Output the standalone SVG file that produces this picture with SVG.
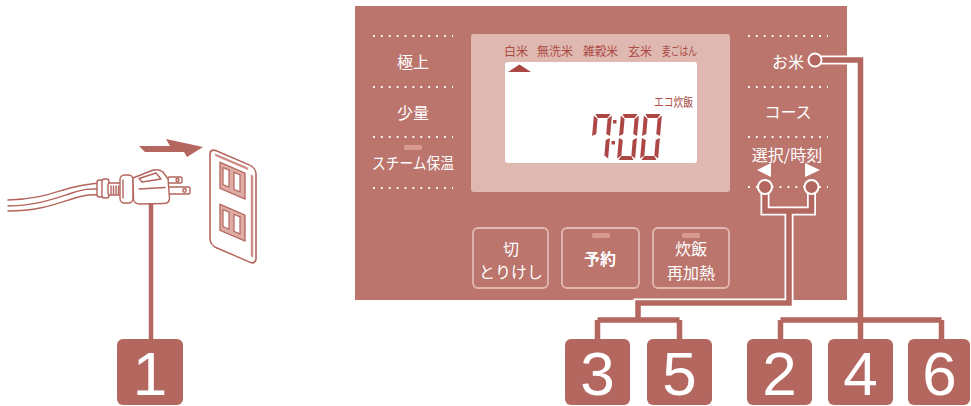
<svg xmlns="http://www.w3.org/2000/svg" width="971" height="406" viewBox="0 0 971 406">
  <style>
    .jp { font-family: "Noto Sans CJK JP", "Noto Sans", sans-serif; }
    .lbl { fill: #ffffff; font-size: 16px; text-anchor: middle; }
    .lcdt { fill: #ac4a45; font-size: 12px; }
    .dots { stroke: #ffffff; stroke-width: 1.8; stroke-dasharray: 1.8 6.1; fill: none; }
    .ink { stroke: #b4645c; stroke-width: 1.4; fill: #ffffff; stroke-linejoin: round; stroke-linecap: round; }
    .ink0 { stroke: #b4645c; stroke-width: 1.4; fill: none; stroke-linecap: round; stroke-linejoin: round; }
    .btn { fill: none; stroke: #e2b8b1; stroke-width: 1.8; }
    .ind { fill: #d89990; }
    .wire-w { stroke: #ffffff; stroke-width: 9; fill: none; stroke-linejoin: miter; }
    .wire { stroke: #b4675f; stroke-width: 5.5; fill: none; stroke-linejoin: miter; }
    .badge rect { fill: #b4675f; }
    .badge text { fill: #ffffff; font-family: "Liberation Sans", Arial, sans-serif; font-size: 62px; text-anchor: middle; }
    .seg { fill: #ab4846; }
  </style>
  <defs>
    <!-- seven-segment cells, 18 x 46 -->
    <g id="seg-a"><polygon class="seg" points="1.5,0 16.5,0 14,4 4,4"/></g>
    <g id="seg-b"><polygon class="seg" points="18,1.5 18,22 14,20 14,5"/></g>
    <g id="seg-c"><polygon class="seg" points="18,24 18,44.5 14,41.5 14,26"/></g>
    <g id="seg-d"><polygon class="seg" points="4,42 14,42 16.5,46 1.5,46"/></g>
    <g id="seg-e"><polygon class="seg" points="0,24 4,26 4,41.5 0,44.5"/></g>
    <g id="seg-f"><polygon class="seg" points="0,1.5 4,5 4,20 0,22"/></g>
    <g id="digit-7"><use href="#seg-a"/><use href="#seg-b"/><use href="#seg-c"/><use href="#seg-f"/></g>
    <g id="digit-0"><use href="#seg-a"/><use href="#seg-b"/><use href="#seg-c"/><use href="#seg-d"/><use href="#seg-e"/><use href="#seg-f"/></g>
  </defs>

  <!-- plug and cord -->
  <g id="plug">
    <path class="ink0" d="M8,200 C40,199 55,192 70,188 S90,184 99,183"/>
    <path class="ink0" d="M8,206 C40,205 56,198 72,193 S90,189 99,189"/>
    <path class="ink0" d="M8,211 C40,211 58,203 75,198 S92,195 99,195"/>
    <rect class="ink" x="97" y="180" width="6" height="17" rx="2.5"/>
    <rect class="ink" x="102" y="179" width="7" height="19" rx="2.5"/>
    <rect class="ink" x="108" y="183" width="14" height="12" rx="1.5"/>
    <path class="ink0" d="M111,186 V194 M113.5,186 V194 M116,186 V194 M118.5,186 V194"/>
    <rect class="ink" x="120" y="175" width="13" height="28" rx="4.5"/>
    <path class="ink0" d="M123,180 V198"/>
    <rect class="ink" x="168" y="177" width="14" height="6" rx="1.5"/>
    <circle class="ink" cx="177.5" cy="180" r="1.5"/>
    <rect class="ink" x="168" y="187" width="22" height="7" rx="1.5"/>
    <circle class="ink" cx="184.5" cy="190.5" r="1.7"/>
    <path class="ink" d="M133,178 L152,170.5 Q158,168.5 163,172 L168,179 L169.5,198 Q169.5,203.5 164,203.5 L140,204 Q134,204 133.5,199 Z"/>
    <path class="ink0" d="M139,178.5 L156,173 L161,179 L142,182 Z"/>
    <path class="ink0" d="M139,189 L165,187.5"/>
  </g>

  <!-- push arrow -->
  <polygon id="push-arrow" fill="#b4675f" points="139,146 170,146 166,139 203,147 187,157 184,152 145,152"/>

  <!-- wall outlet -->
  <g id="outlet" transform="matrix(1,0.43,0,1,210,150)">
    <rect x="0" y="-2" width="46" height="97" rx="6" fill="#ffffff" stroke="#b4645c" stroke-width="1.6"/>
    <path d="M6,2.5 H37 M42,8 V88" stroke="#dca8a1" stroke-width="2.6" fill="none" stroke-linecap="round"/>
    <path d="M6,2.5 H37 M42,8 V88" stroke="#b4645c" stroke-width="0.6" fill="none" stroke-linecap="round"/>
    <rect x="10" y="8" width="25" height="26" fill="#dcaca5" stroke="#b4645c" stroke-width="1.3"/>
    <rect x="13" y="12" width="6" height="17" fill="#ffffff" stroke="#b4645c" stroke-width="1.2"/>
    <rect x="24" y="12" width="6" height="17" fill="#ffffff" stroke="#b4645c" stroke-width="1.2"/>
    <rect x="10" y="50" width="25" height="26" fill="#dcaca5" stroke="#b4645c" stroke-width="1.3"/>
    <rect x="13" y="54" width="6" height="17" fill="#ffffff" stroke="#b4645c" stroke-width="1.2"/>
    <rect x="24" y="54" width="6" height="17" fill="#ffffff" stroke="#b4645c" stroke-width="1.2"/>
  </g>

  <!-- control panel -->
  <g id="panel">
    <rect x="355" y="6" width="492" height="294" fill="#bb756c"/>
    <!-- left menu -->
    <line class="dots" x1="373" y1="36" x2="453" y2="36"/>
    <line class="dots" x1="373" y1="87" x2="453" y2="87"/>
    <line class="dots" x1="373" y1="137" x2="453" y2="137"/>
    <line class="dots" x1="373" y1="188" x2="453" y2="188"/>
    <text class="jp lbl" x="413" y="68">極上</text>
    <text class="jp lbl" x="413" y="119">少量</text>
    <rect class="ind" x="404" y="145" width="18" height="5" rx="1.5"/>
    <text class="jp lbl" x="413" y="169" font-size="15" textLength="82" lengthAdjust="spacingAndGlyphs">スチーム保温</text>
    <!-- right menu -->
    <line class="dots" x1="748" y1="36" x2="828" y2="36"/>
    <line class="dots" x1="748" y1="87" x2="828" y2="87"/>
    <line class="dots" x1="748" y1="137" x2="828" y2="137"/>
    <line class="dots" x1="748" y1="187" x2="828" y2="187"/>
    <text class="jp lbl" x="788" y="68">お米</text>
    <text class="jp lbl" x="788" y="118">コース</text>
    <text class="jp lbl" x="787" y="161" font-size="13.5">選択/時刻</text>
    <polygon fill="#ffffff" points="757,170 771,163 771,177"/>
    <polygon fill="#ffffff" points="805,163 805,177 820,170"/>
  </g>

  <!-- display -->
  <g id="display">
    <rect x="471" y="34" width="259" height="158" rx="3" fill="#dfb9b1"/>
    <rect x="505" y="62" width="192" height="101" rx="3" fill="#ffffff"/>
    <text class="jp lcdt" x="504" y="56" textLength="24" lengthAdjust="spacingAndGlyphs">白米</text>
    <text class="jp lcdt" x="537" y="56" textLength="36" lengthAdjust="spacingAndGlyphs">無洗米</text>
    <text class="jp lcdt" x="583" y="56" textLength="35" lengthAdjust="spacingAndGlyphs">雑穀米</text>
    <text class="jp lcdt" x="628" y="56" textLength="24" lengthAdjust="spacingAndGlyphs">玄米</text>
    <text class="jp lcdt" x="662" y="56" textLength="35" lengthAdjust="spacingAndGlyphs">麦ごはん</text>
    <polygon fill="#ab4846" points="508,72 531,72 519.5,64.5"/>
    <text class="jp lcdt" x="654" y="107" font-size="13" textLength="39" lengthAdjust="spacingAndGlyphs">エコ炊飯</text>
    <use href="#digit-7" transform="translate(594,114) skewX(-5)"/>
    <rect class="seg" x="613" y="120" width="3.5" height="3.5"/>
    <rect class="seg" x="611.5" y="141" width="3.5" height="3.5"/>
    <use href="#digit-0" transform="translate(621,114) skewX(-5)"/>
    <use href="#digit-0" transform="translate(644,114) skewX(-5)"/>
  </g>

  <!-- buttons -->
  <g id="btn-cancel">
    <rect class="btn" x="473" y="228" width="75" height="60" rx="5"/>
    <text class="jp lbl" x="511" y="255" font-size="16">切</text>
    <text class="jp lbl" x="511" y="278" font-size="12.5">とりけし</text>
  </g>
  <g id="btn-timer">
    <rect class="btn" x="562" y="228" width="77" height="60" rx="5"/>
    <rect class="ind" x="592" y="233" width="18" height="5" rx="1.5"/>
    <text class="jp lbl" x="600" y="265" font-size="19" font-weight="bold">予約</text>
  </g>
  <g id="btn-cook">
    <rect class="btn" x="653" y="228" width="76" height="60" rx="5"/>
    <rect class="ind" x="682" y="233" width="18" height="5" rx="1.5"/>
    <text class="jp lbl" x="691" y="255" font-size="17">炊飯</text>
    <text class="jp lbl" x="691" y="279" font-size="12">再加熱</text>
  </g>

  <!-- leader lines -->
  <g id="connectors">
    <line x1="151" y1="204" x2="151" y2="340" stroke="#b4675f" stroke-width="4.5"/>
    <path class="wire-w" d="M765,187 V211 H811.5 V187 M789,211 V303 H638 V320 M597.5,320 H679.5 M597.5,320 V340 M679.5,320 V340"/>
    <path class="wire-w" d="M816,60 H860.5 V320 M780.5,320 H941.5 M780.5,320 V340 M941.5,320 V340 M860.5,320 V340"/>
    <path class="wire" d="M765,187 V211 H811.5 V187 M789,211 V303 H638 V320 M597.5,320 H679.5 M597.5,320 V340 M679.5,320 V340"/>
    <path class="wire" d="M816,60 H860.5 V320 M780.5,320 H941.5 M780.5,320 V340 M941.5,320 V340 M860.5,320 V340"/>
    <circle cx="815" cy="60" r="6.5" fill="#b4675f" stroke="#ffffff" stroke-width="2"/>
    <circle cx="765" cy="187" r="7" fill="#b4675f" stroke="#ffffff" stroke-width="2"/>
    <circle cx="811.5" cy="187" r="7" fill="#b4675f" stroke="#ffffff" stroke-width="2"/>
  </g>

  <!-- step badges -->
  <g id="badge-1" class="badge"><rect x="117" y="339" width="66" height="66" rx="6"/><text x="150" y="395">1</text></g>
  <g id="badge-3" class="badge"><rect x="565" y="339" width="65" height="66" rx="6"/><text x="597.5" y="395">3</text></g>
  <g id="badge-5" class="badge"><rect x="647" y="339" width="65" height="66" rx="6"/><text x="679.5" y="395">5</text></g>
  <g id="badge-2" class="badge"><rect x="747" y="339" width="65" height="66" rx="6"/><text x="779.5" y="395">2</text></g>
  <g id="badge-4" class="badge"><rect x="828" y="339" width="65" height="66" rx="6"/><text x="860.5" y="395">4</text></g>
  <g id="badge-6" class="badge"><rect x="908" y="339" width="62" height="66" rx="6"/><text x="939.5" y="395">6</text></g>
</svg>
